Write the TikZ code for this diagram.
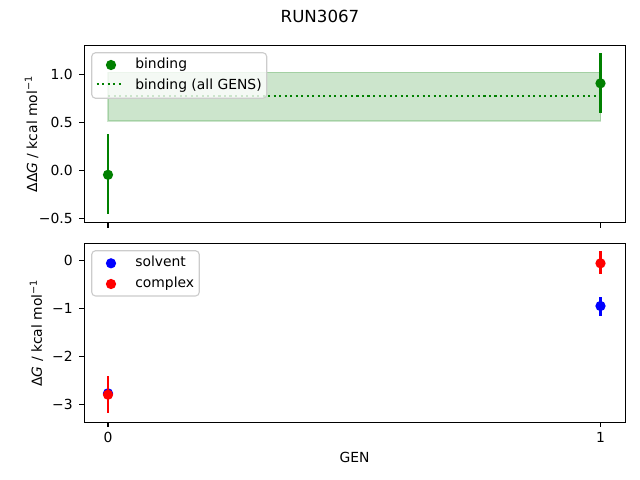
\documentclass[tikz,border=0pt]{standalone}
\usepackage{fontspec}
\setmainfont{DejaVu Sans}
\newfontfamily\dvit{DejaVu Sans Oblique}
\begin{document}
\begin{tikzpicture}[x=0.72pt,y=-0.72pt,
  every node/.style={font=\fontsize{10pt}{12pt}\selectfont, inner sep=0pt},
  spine/.style={line width=0.8pt, black},
  tick/.style={line width=0.8pt, black},
  ticklab/.style={anchor=base east},
  xticklab/.style={anchor=base},
  ebar/.style={line width=1.5pt},
  mk/.style={circle, minimum size=7.4pt, inner sep=0pt, fill=#1, draw=none},
  legbox/.style={draw=black!20, fill=white, fill opacity=0.8, line width=0.8pt, rounded corners=2.8pt},
  legtext/.style={anchor=base west}
]
\definecolor{mgreen}{HTML}{008000}
\definecolor{mblue}{HTML}{0000FF}
\definecolor{mred}{HTML}{FF0000}
\useasboundingbox (0,0) rectangle (640,480);
\fill[white] (0,0) rectangle (640,480);

% title
\node[anchor=base, font=\fontsize{12pt}{14pt}\selectfont] (title) at (320,22.3) {RUN3067};

% ===== top axes =====
\coordinate (tA) at (84.3,45.3);
\coordinate (tB) at (625.7,222.7);
% band
\fill[mgreen, fill opacity=0.2, draw=mgreen, draw opacity=0.2, line width=1pt] (108,72.3) rectangle (600.5,121);
% dotted mean
\coordinate (dl) at (108,95.7);
\coordinate (dr) at (600.5,95.7);
\draw[mgreen, line width=1.5pt, dash pattern=on 1.5pt off 2.475pt] (dl) -- (dr);
% points
\coordinate (b0t) at (108,134); \coordinate (b0b) at (108,214.3);
\draw[ebar, mgreen] (b0t) -- (b0b);
\node[mk=mgreen] (b0) at (108,174.8) {};
\coordinate (b1t) at (600.5,53.3); \coordinate (b1b) at (600.5,113.3);
\draw[ebar, mgreen] (b1t) -- (b1b);
\node[mk=mgreen] (b1) at (600.5,83.3) {};
% legend
\draw[legbox] (91.7,52.7) rectangle (266.7,98.3);
\node[mk=mgreen] (lb) at (111,65) {};
\node[legtext] (lbt) at (135,68.6) {binding};
\coordinate (lds) at (96.7,84.3); \coordinate (lde) at (123.3,84.3);
\draw[mgreen, line width=1.5pt, dash pattern=on 1.5pt off 2.475pt] (lds) -- (lde);
\node[legtext] (ldt) at (135,89.2) {binding (all GENS)};
% spines
\draw[spine] (tA) rectangle (tB);
% y ticks
\foreach \v/\lab [count=\i] in {74.3/1.0, 122.3/0.5, 170.3/0.0, 218.5/−0.5}{
  \coordinate (tyk\i) at (84.3,\v);
  \coordinate (tyk\i e) at (79.4,\v);
  \draw[tick] (tyk\i) -- (tyk\i e);
  \node[ticklab] (tyl\i) at (73,\v+4.8) {\lab};
}
% x ticks (no labels)
\foreach \x [count=\i] in {108,600.5}{
  \coordinate (txk\i) at (\x,222.7);
  \coordinate (txk\i e) at (\x,227.6);
  \draw[tick] (txk\i) -- (txk\i e);
}
\node[anchor=base, rotate=90] (tyl) at (37,134) {ΔΔ{\dvit G} / kcal mol\textsuperscript{−1}};

% ===== bottom axes =====
\coordinate (bA) at (84.3,243.7);
\coordinate (bB) at (625.7,422.3);
% solvent
\coordinate (s0t) at (108,389); \coordinate (s0b) at (108,398);
\draw[ebar, mblue] (s0t) -- (s0b);
\node[mk=mblue] (s0) at (108,393.3) {};
\coordinate (s1t) at (600.5,297.3); \coordinate (s1b) at (600.5,315.7);
\draw[ebar, mblue] (s1t) -- (s1b);
\node[mk=mblue] (s1) at (600.5,306) {};
% complex
\coordinate (c0t) at (108,376); \coordinate (c0b) at (108,413.3);
\draw[ebar, mred] (c0t) -- (c0b);
\node[mk=mred] (c0) at (108,394.7) {};
\coordinate (c1t) at (600.5,251); \coordinate (c1b) at (600.5,274.3);
\draw[ebar, mred] (c1t) -- (c1b);
\node[mk=mred] (c1) at (600.5,263.3) {};
% legend
\draw[legbox] (91.7,250.7) rectangle (199.3,296);
\node[mk=mblue] (ls) at (111,263.3) {};
\node[legtext] (lst) at (135,266.9) {solvent};
\node[mk=mred] (lc) at (111,284) {};
\node[legtext] (lct) at (135,287.6) {complex};
% spines
\draw[spine] (bA) rectangle (bB);
\foreach \v/\lab [count=\i] in {260.3/0, 308.3/−1, 356.3/−2, 404.3/−3}{
  \coordinate (byk\i) at (84.3,\v);
  \coordinate (byk\i e) at (79.4,\v);
  \draw[tick] (byk\i) -- (byk\i e);
  \node[ticklab] (byl\i) at (73,\v+4.8) {\lab};
}
\foreach \x/\lab [count=\i] in {108/0,600.5/1}{
  \coordinate (bxk\i) at (\x,422.3);
  \coordinate (bxk\i e) at (\x,427.2);
  \draw[tick] (bxk\i) -- (bxk\i e);
  \node[xticklab] (bxl\i) at (\x,442) {\lab};
}
\node[anchor=base, rotate=90] (byl) at (42,333) {Δ{\dvit G} / kcal mol\textsuperscript{−1}};
\node[anchor=base] (xl) at (354.5,462.7) {GEN};
\end{tikzpicture}
\end{document}
